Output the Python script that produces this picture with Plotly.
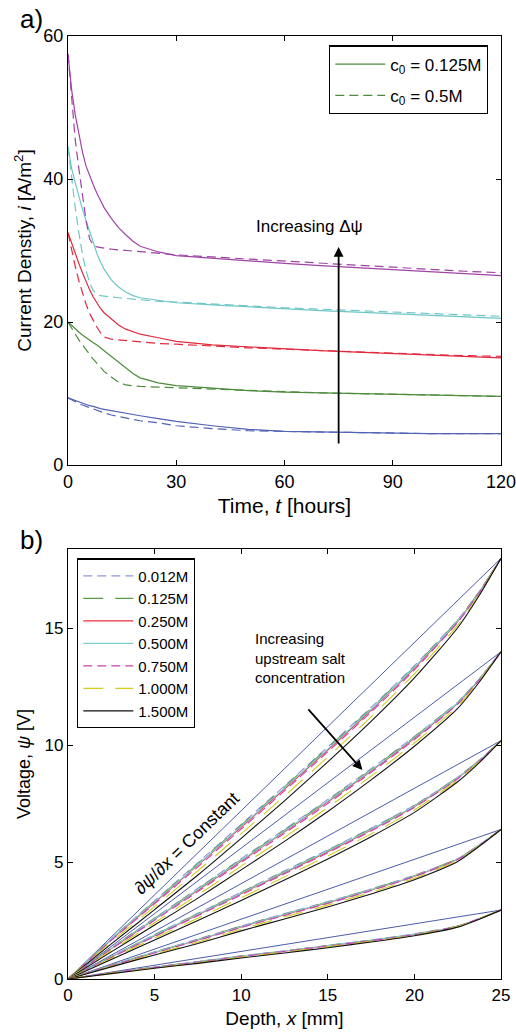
import plotly.graph_objects as go

# ---------------- panel a: current density vs time ----------------
time_h = [0, 1, 2, 3, 4, 5, 6, 7, 8, 9, 10, 12, 14, 16, 18, 20, 25, 30,
          40, 50, 60, 70, 80, 90, 100, 110, 120]

# c0 = 0.125M (solid) and c0 = 0.5M (dashed), five driving voltages
i_blue_125 = [9.4, 9.2, 9.0, 8.8, 8.6, 8.4, 8.3, 8.2, 8.0, 7.9, 7.8, 7.6, 7.4, 7.2, 7.0, 6.9,
              6.5, 6.1, 5.5, 5.0, 4.7, 4.6, 4.5, 4.5, 4.4, 4.4, 4.4]
i_blue_50 = [9.4, 9.1, 8.8, 8.6, 8.4, 8.2, 8.0, 7.8, 7.6, 7.5, 7.3, 7.0, 6.8, 6.6, 6.4, 6.2,
             5.9, 5.5, 5.1, 4.8, 4.7, 4.6, 4.5, 4.5, 4.4, 4.4, 4.4]
i_green_125 = [20.0, 19.5, 19.0, 18.6, 18.2, 17.8, 17.4, 17.1, 16.8, 16.4, 16.0, 15.2, 14.3,
               13.5, 12.8, 12.2, 11.5, 11.1, 10.7, 10.4, 10.2, 10.1, 10.0, 9.9, 9.8, 9.7, 9.6]
i_green_50 = [20.0, 19.1, 18.3, 17.5, 16.8, 16.2, 15.5, 14.8, 14.2, 13.6, 13.1, 12.3, 11.6,
              11.2, 11.1, 11.0, 10.9, 10.8, 10.6, 10.4, 10.2, 10.1, 10.0, 9.9, 9.8, 9.7, 9.6]
i_red_125 = [32.5, 31.0, 29.6, 28.2, 26.9, 25.6, 24.5, 23.5, 22.6, 21.9, 21.3, 20.4, 19.6,
             19.0, 18.6, 18.3, 17.8, 17.3, 16.8, 16.5, 16.2, 16.0, 15.8, 15.6, 15.4, 15.2, 15.0]
i_red_50 = [32.5, 30.0, 27.8, 25.8, 24.0, 22.5, 21.2, 20.2, 19.3, 18.5, 17.9, 17.6, 17.5,
            17.4, 17.3, 17.2, 17.0, 16.9, 16.6, 16.4, 16.2, 16.0, 15.9, 15.7, 15.5, 15.3, 15.2]
i_cyan_125 = [44.5, 41.5, 39.5, 37.5, 35.8, 34.2, 32.6, 31.0, 29.6, 28.4, 27.4, 25.9, 24.9,
              24.2, 23.7, 23.4, 23.0, 22.7, 22.4, 22.1, 21.8, 21.6, 21.4, 21.2, 21.0, 20.8, 20.5]
i_cyan_50 = [44.5, 40.0, 36.0, 32.5, 29.5, 27.2, 25.5, 24.4, 23.9, 23.7, 23.6, 23.5, 23.4,
             23.3, 23.2, 23.1, 22.9, 22.8, 22.5, 22.2, 22.0, 21.8, 21.6, 21.4, 21.2, 21.0, 20.8]
i_purple_125 = [57.5, 52.5, 49.0, 46.2, 43.8, 41.8, 40.4, 39.2, 38.0, 37.0, 36.0, 34.5, 33.2,
                32.2, 31.3, 30.6, 29.8, 29.3, 28.9, 28.6, 28.2, 27.9, 27.6, 27.3, 27.0, 26.8, 26.5]
i_purple_50 = [57.5, 51.5, 45.5, 41.5, 38.0, 34.2, 31.6, 30.8, 30.5, 30.4, 30.3, 30.2, 30.1,
               30.0, 29.9, 29.8, 29.6, 29.4, 29.1, 28.8, 28.5, 28.2, 27.9, 27.6, 27.4, 27.1, 26.9]

a_colors = ["#5262b4", "#4c8c3c", "#e02a3e", "#6fc6c6", "#a043a6"]
a_solid = [i_blue_125, i_green_125, i_red_125, i_cyan_125, i_purple_125]
a_dashed = [i_blue_50, i_green_50, i_red_50, i_cyan_50, i_purple_50]

# ---------------- panel b: voltage profiles vs depth ----------------
depth_mm = [0, 2.5, 5, 7.5, 10, 12.5, 15, 17.5, 20, 22.5, 23.75, 25]
conc_labels = ["0.012M", "0.125M", "0.250M", "0.500M", "0.750M", "1.000M", "1.500M"]
conc_colors = ["#8e96d6", "#5a9a4a", "#e8303c", "#7dcfcf", "#cc3fb0", "#d2cc1e", "#111111"]
conc_dash = ["9px,5px", "20px,12px", "solid", "solid", "9px,5px", "20px,12px", "solid"]

# applied voltage at x = 25 mm for each of the five runs (straight reference lines)
psi_end = [18.0, 14.0, 10.2, 6.4, 2.95]

# rows follow conc_labels
psi_run1 = [
    [0, 1.73, 3.35, 4.98, 6.62, 8.26, 9.93, 11.62, 13.41, 15.37, 16.59, 18.0],
    [0, 1.71, 3.32, 4.94, 6.58, 8.22, 9.89, 11.58, 13.37, 15.35, 16.58, 18.0],
    [0, 1.68, 3.27, 4.87, 6.50, 8.13, 9.80, 11.50, 13.30, 15.30, 16.55, 18.0],
    [0, 1.70, 3.30, 4.90, 6.54, 8.17, 9.84, 11.54, 13.34, 15.32, 16.56, 18.0],
    [0, 1.65, 3.22, 4.80, 6.42, 8.05, 9.72, 11.42, 13.23, 15.26, 16.53, 18.0],
    [0, 1.58, 3.10, 4.63, 6.22, 7.83, 9.50, 11.22, 13.06, 15.14, 16.47, 18.0],
    [0, 1.50, 2.97, 4.45, 6.02, 7.62, 9.29, 11.02, 12.88, 15.03, 16.42, 18.0],
]
psi_run2 = [
    [0, 1.34, 2.61, 3.88, 5.15, 6.40, 7.68, 9.00, 10.38, 11.85, 12.85, 14.0],
    [0, 1.32, 2.59, 3.86, 5.11, 6.37, 7.65, 8.96, 10.36, 11.84, 12.84, 14.0],
    [0, 1.30, 2.55, 3.80, 5.05, 6.30, 7.58, 8.90, 10.30, 11.80, 12.82, 14.0],
    [0, 1.31, 2.57, 3.83, 5.08, 6.33, 7.61, 8.93, 10.33, 11.82, 12.83, 14.0],
    [0, 1.28, 2.51, 3.74, 4.99, 6.23, 7.51, 8.84, 10.24, 11.76, 12.80, 14.0],
    [0, 1.22, 2.41, 3.60, 4.83, 6.06, 7.34, 8.68, 10.10, 11.67, 12.76, 14.0],
    [0, 1.16, 2.31, 3.46, 4.67, 5.89, 7.17, 8.52, 9.96, 11.58, 12.71, 14.0],
]
psi_run3 = [
    [0, 0.97, 1.90, 2.81, 3.72, 4.63, 5.53, 6.45, 7.44, 8.64, 9.36, 10.2],
    [0, 0.96, 1.88, 2.79, 3.70, 4.60, 5.50, 6.43, 7.42, 8.63, 9.36, 10.2],
    [0, 0.94, 1.85, 2.75, 3.65, 4.55, 5.45, 6.38, 7.38, 8.60, 9.34, 10.2],
    [0, 0.95, 1.87, 2.77, 3.67, 4.58, 5.48, 6.40, 7.40, 8.61, 9.35, 10.2],
    [0, 0.92, 1.82, 2.71, 3.60, 4.50, 5.40, 6.33, 7.34, 8.57, 9.33, 10.2],
    [0, 0.88, 1.75, 2.60, 3.48, 4.37, 5.27, 6.21, 7.23, 8.51, 9.30, 10.2],
    [0, 0.83, 1.67, 2.50, 3.36, 4.24, 5.14, 6.09, 7.13, 8.44, 9.26, 10.2],
]
psi_run4 = [
    [0, 0.60, 1.16, 1.71, 2.27, 2.80, 3.31, 3.85, 4.44, 5.15, 5.74, 6.4],
    [0, 0.59, 1.15, 1.69, 2.26, 2.78, 3.29, 3.84, 4.42, 5.15, 5.74, 6.4],
    [0, 0.58, 1.13, 1.67, 2.23, 2.75, 3.26, 3.81, 4.40, 5.13, 5.73, 6.4],
    [0, 0.59, 1.14, 1.68, 2.24, 2.77, 3.28, 3.82, 4.41, 5.14, 5.74, 6.4],
    [0, 0.57, 1.11, 1.65, 2.20, 2.72, 3.23, 3.78, 4.38, 5.11, 5.72, 6.4],
    [0, 0.54, 1.07, 1.58, 2.13, 2.65, 3.16, 3.71, 4.31, 5.07, 5.70, 6.4],
    [0, 0.52, 1.03, 1.52, 2.06, 2.57, 3.08, 3.64, 4.25, 5.03, 5.68, 6.4],
]
psi_run5 = [
    [0, 0.27, 0.51, 0.75, 0.99, 1.21, 1.44, 1.67, 1.93, 2.27, 2.59, 2.95],
    [0, 0.26, 0.51, 0.74, 0.98, 1.20, 1.43, 1.66, 1.92, 2.27, 2.59, 2.95],
    [0, 0.26, 0.50, 0.73, 0.97, 1.19, 1.42, 1.65, 1.91, 2.26, 2.58, 2.95],
    [0, 0.26, 0.50, 0.74, 0.98, 1.20, 1.43, 1.66, 1.92, 2.26, 2.58, 2.95],
    [0, 0.26, 0.49, 0.72, 0.96, 1.18, 1.41, 1.64, 1.90, 2.25, 2.58, 2.95],
    [0, 0.24, 0.47, 0.69, 0.93, 1.15, 1.38, 1.61, 1.87, 2.24, 2.57, 2.95],
    [0, 0.23, 0.46, 0.67, 0.90, 1.11, 1.34, 1.58, 1.85, 2.22, 2.56, 2.95],
]
psi_runs = [psi_run1, psi_run2, psi_run3, psi_run4, psi_run5]

FONT = "Liberation Sans, Arial, Helvetica, sans-serif"
fig = go.Figure()

# panel a traces
for k, color in enumerate(a_colors):
    fig.add_trace(go.Scatter(
        x=time_h, y=a_solid[k], mode="lines", xaxis="x", yaxis="y",
        line=dict(color=color, width=1.2),
        name="c<sub>0</sub> = 0.125M", legend="legend", legendgroup="c0125",
        showlegend=(k == 1), legendrank=1))
    fig.add_trace(go.Scatter(
        x=time_h, y=a_dashed[k], mode="lines", xaxis="x", yaxis="y",
        line=dict(color=color, width=1.2, dash="9px,5px"),
        name="c<sub>0</sub> = 0.5M", legend="legend", legendgroup="c05",
        showlegend=(k == 1), legendrank=2))

# panel b: constant-gradient reference lines
for end in psi_end:
    fig.add_trace(go.Scatter(
        x=[depth_mm[0], depth_mm[-1]], y=[0, end], mode="lines", xaxis="x2", yaxis="y2",
        line=dict(color="#4d5ca8", width=1.0), showlegend=False, hoverinfo="skip"))

# panel b: measured profiles
for r, run in enumerate(psi_runs):
    for c, label in enumerate(conc_labels):
        fig.add_trace(go.Scatter(
            x=depth_mm, y=run[c], mode="lines", xaxis="x2", yaxis="y2",
            line=dict(color=conc_colors[c], width=1.1, dash=conc_dash[c], shape="spline",
                      smoothing=0.6),
            name=label, legend="legend2", legendgroup=label,
            showlegend=(r == 0), legendrank=c + 1))

axis_common = dict(showline=True, linecolor="black", linewidth=1.4, mirror="ticks",
                   ticks="inside", ticklen=5, tickwidth=1.2, tickcolor="black",
                   showgrid=False, zeroline=False, automargin=False,
                   ticklabeloverflow="allow")

fig.update_layout(
    width=516, height=1035,
    margin=dict(l=68, r=15, t=36, b=56),
    paper_bgcolor="white", plot_bgcolor="white",
    font=dict(family=FONT, color="black"),
    xaxis=dict(axis_common, domain=[0, 1], anchor="y", range=[0, 120],
               tickvals=[0, 30, 60, 90, 120],
               tickfont=dict(family=FONT, size=18, color="black"),
               title=dict(text="Time, <i>t</i> [hours]", font=dict(size=21), standoff=7)),
    yaxis=dict(axis_common, domain=[0.545, 1], anchor="x", range=[0, 60],
               tickvals=[0, 20, 40, 60],
               tickfont=dict(family=FONT, size=18, color="black"),
               title=dict(text="Current Denstiy, <i>i</i> [A/m<sup>2</sup>]",
                          font=dict(size=19), standoff=6)),
    xaxis2=dict(axis_common, domain=[0, 1], anchor="y2", range=[0, 25],
                tickvals=[0, 5, 10, 15, 20, 25],
                tickfont=dict(family=FONT, size=17, color="black"),
                title=dict(text="Depth, <i>x</i> [mm]", font=dict(size=19), standoff=8)),
    yaxis2=dict(axis_common, domain=[0, 0.456], anchor="x2", range=[0, 18.4],
                tickvals=[0, 5, 10, 15],
                tickfont=dict(family=FONT, size=17, color="black"),
                title=dict(text="Voltage, <i>ψ</i> [V]", font=dict(size=18), standoff=9)),
    legend=dict(x=0.603, y=0.99, xanchor="left", yanchor="top",
                bgcolor="white", bordercolor="black", borderwidth=1.2,
                font=dict(family=FONT, size=17), tracegroupgap=6, itemwidth=50),
    legend2=dict(x=0.021, y=0.446, xanchor="left", yanchor="top",
                 bgcolor="white", bordercolor="black", borderwidth=1.2,
                 font=dict(family=FONT, size=15), tracegroupgap=0, itemwidth=50),
    annotations=[
        dict(text="a)", xref="paper", yref="paper", x=-0.115, y=1.018,
             xanchor="left", yanchor="middle", showarrow=False, font=dict(size=26)),
        dict(text="b)", xref="paper", yref="paper", x=-0.115, y=0.466,
             xanchor="left", yanchor="middle", showarrow=False, font=dict(size=26)),
        dict(text="", xref="x", yref="y", x=75, y=30.5, ax=75, ay=2.8,
             axref="x", ayref="y", showarrow=True, arrowhead=2, arrowsize=1.1,
             arrowwidth=1.8, arrowcolor="black"),
        dict(text="Increasing Δψ", xref="x", yref="y", x=67, y=33.3,
             xanchor="center", yanchor="middle", showarrow=False, font=dict(size=17)),
        dict(text="Increasing<br>upstream salt<br>concentration", xref="x2", yref="y2",
             x=10.7, y=15.0, xanchor="left", yanchor="top", align="left",
             showarrow=False, font=dict(size=15)),
        dict(text="", xref="x2", yref="y2", x=17.0, y=8.94, ax=13.8, ay=11.6,
             axref="x2", ayref="y2", showarrow=True, arrowhead=2, arrowsize=1.1,
             arrowwidth=1.8, arrowcolor="black"),
        dict(text="∂<i>ψ</i>/∂<i>x</i> = Constant", xref="x2", yref="y2", x=6.87, y=5.82,
             textangle=-44, showarrow=False, font=dict(size=18)),
    ],
)

fig.write_html("out.html")
